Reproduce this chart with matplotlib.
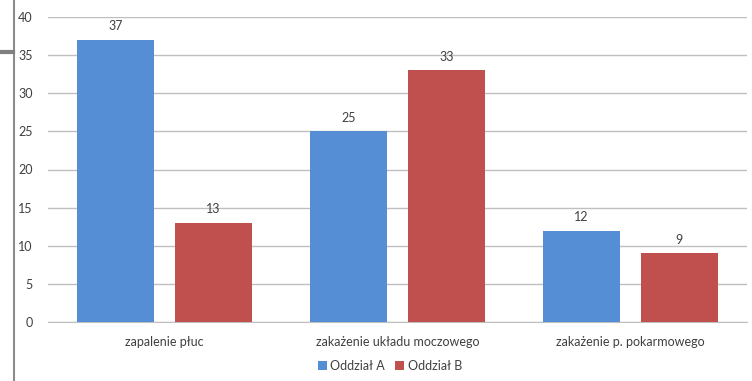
import numpy as np
import matplotlib.pyplot as plt
from matplotlib.lines import Line2D

categories = ['zapalenie płuc', 'zakażenie układu moczowego', 'zakażenie p. pokarmowego']
oddzial_a = [37, 25, 12]
oddzial_b = [13, 33, 9]
series_names = ['Oddział A', 'Oddział B']

W, H = 752, 381
fig = plt.figure(figsize=(W / 100, H / 100), dpi=100)
plt.rcParams['font.family'] = ['Lato', 'DejaVu Sans']

# plot area in pixels: x 48..747, y 17..322
ax = fig.add_axes([48 / W, 1 - 322 / H, (747 - 48) / W, (322 - 17) / H])

x = np.arange(len(categories))
bw = 0.33
off = 0.21
txt = '#404040'
ba = ax.bar(x - off, oddzial_a, bw, color='#558ED5', label=series_names[0], zorder=3)
bb = ax.bar(x + off, oddzial_b, bw, color='#C0504D', label=series_names[1], zorder=3)

for bars, vals in ((ba, oddzial_a), (bb, oddzial_b)):
    for r, v in zip(bars, vals):
        ax.text(r.get_x() + r.get_width() / 2, v + 1.0, str(v), ha='center', va='bottom',
                fontsize=9, color=txt)

ax.set_xlim(-0.5, 2.5)
ax.set_ylim(0, 40)
ax.set_yticks(range(0, 41, 5))
ax.set_xticks(x)
ax.set_xticklabels(categories)
ax.yaxis.grid(True, color='#BFBFBF', linewidth=1, zorder=0)
ax.tick_params(axis='both', length=0, labelsize=9, colors=txt)
ax.tick_params(axis='y', pad=11)
ax.tick_params(axis='x', pad=10)
for s in ['top', 'right', 'left']:
    ax.spines[s].set_visible(False)
ax.spines['bottom'].set_color('#BFBFBF')

fig.legend(handles=[ba, bb], loc='center', bbox_to_anchor=(390 / W, 1 - 366 / H), ncol=2,
           frameon=False, fontsize=9, handlelength=0.7, handleheight=0.7,
           handletextpad=0.3, columnspacing=0.8, labelcolor=txt)

# frame edge on the left
fig.add_artist(Line2D([13.5 / W, 13.5 / W], [0, 1], color='#8C8C8C', linewidth=1.5,
                      transform=fig.transFigure))
fig.add_artist(Line2D([0, 13 / W], [1 - 51.5 / H, 1 - 51.5 / H], color='#7F7F7F', linewidth=3,
                      transform=fig.transFigure))

fig.savefig('out.png', dpi=100)
